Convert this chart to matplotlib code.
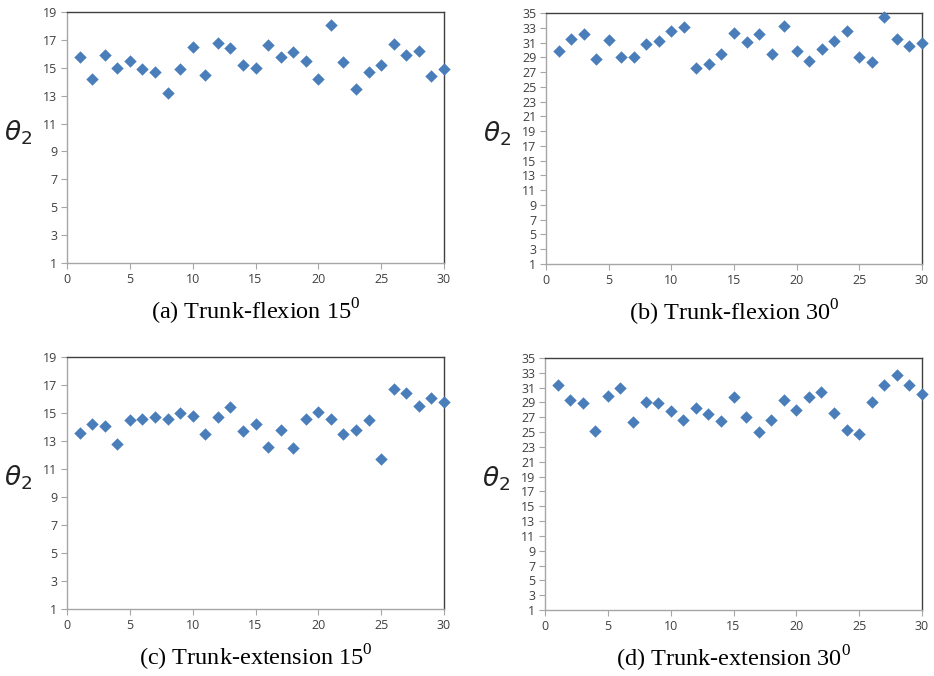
import matplotlib
matplotlib.use('Agg')
import matplotlib.pyplot as plt

# trial number on the x axis
trials = list(range(1, 31))

# theta_2 readings for each posture
flex15 = [15.8, 14.2, 15.9, 15.0, 15.5, 14.9, 14.7, 13.2, 14.9, 16.5,
          14.5, 16.8, 16.4, 15.2, 15.0, 16.6, 15.8, 16.1, 15.5, 14.2,
          18.1, 15.4, 13.5, 14.7, 15.2, 16.7, 15.9, 16.2, 14.4, 14.9]
flex30 = [29.9, 31.5, 32.1, 28.8, 31.3, 29.0, 29.0, 30.8, 31.2, 32.5,
          33.1, 27.5, 28.1, 29.5, 32.3, 31.1, 32.2, 29.5, 33.2, 29.8,
          28.5, 30.1, 31.2, 32.5, 29.0, 28.4, 34.5, 31.5, 30.5, 30.9]
ext15 = [13.6, 14.2, 14.1, 12.8, 14.5, 14.6, 14.7, 14.6, 15.0, 14.8,
         13.5, 14.7, 15.4, 13.7, 14.2, 12.6, 13.8, 12.5, 14.6, 15.1,
         14.6, 13.5, 13.8, 14.5, 11.7, 16.7, 16.4, 15.5, 16.1, 15.8]
ext30 = [31.3, 29.4, 28.9, 25.2, 29.9, 31.0, 26.3, 29.0, 28.9, 27.9,
         26.7, 28.3, 27.5, 26.5, 29.7, 27.1, 25.0, 26.7, 29.3, 28.0,
         29.7, 30.4, 27.6, 25.3, 24.8, 29.1, 31.4, 32.7, 31.4, 30.2]

captions = ['(a) Trunk-flexion 15', '(b) Trunk-flexion 30',
            '(c) Trunk-extension 15', '(d) Trunk-extension 30']
series = [flex15, flex30, ext15, ext30]
y_tops = [19, 35, 19, 35]

W, H = 934, 676
# axes boxes in pixels: left, right, top, bottom
boxes = [(67, 444, 12, 263), (546, 922, 13, 264),
         (67, 444, 357, 609), (545, 922, 358, 610)]

fig = plt.figure(figsize=(W / 100, H / 100), dpi=100)
tick_col = '#404040'

for (l, r, t, b), vals, ytop, cap in zip(boxes, series, y_tops, captions):
    ax = fig.add_axes([l / W, 1 - b / H, (r - l) / W, (b - t) / H])
    ax.scatter(trials, vals, marker='D', s=40, color='#4A7EBB', linewidths=0,
               zorder=3, clip_on=False)
    ax.set_xlim(0, 30)
    ax.set_ylim(1, ytop)
    ax.set_xticks(range(0, 31, 5))
    ax.set_yticks(range(1, ytop + 1, 2))
    ax.tick_params(direction='out', length=4, width=0.8, color='#A6A6A6',
                   labelcolor=tick_col, labelsize=9, pad=3)
    for lab in ax.get_xticklabels() + ax.get_yticklabels():
        lab.set_family('Open Sans')
    ax.spines['left'].set_color('#A6A6A6')
    ax.spines['bottom'].set_color('#A6A6A6')
    ax.spines['top'].set_color('#404040')
    ax.spines['right'].set_color('#404040')
    for sp in ax.spines.values():
        sp.set_linewidth(1.0)
    ax.set_ylabel(r'$\theta_2$', rotation=0, fontsize=19, color='#222222')
    ax.yaxis.set_label_coords(-0.13, 0.52)
    ax.yaxis.label.set_va('center')
    ax.yaxis.label.set_ha('center')

    fig.text((l + r) / 2 / W, 1 - (b + 57) / H, cap + r'$^{\mathregular{0}}$',
             ha='center', va='baseline', fontsize=17.5, family='Liberation Serif')

fig.savefig('out.png', dpi=100)
